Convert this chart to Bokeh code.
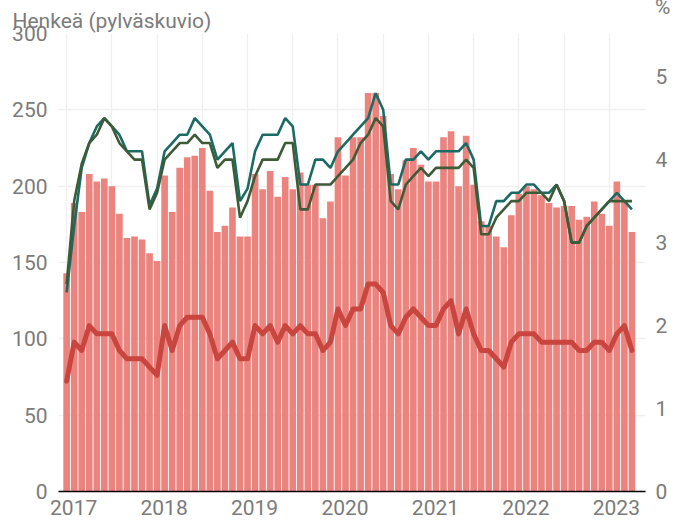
from bokeh.plotting import figure
from bokeh.models import Range1d, LinearAxis, FixedTicker, CustomJSTickFormatter, Title
from bokeh.embed import file_html
from bokeh.resources import INLINE

# Monthly data, Jan 2017 .. Apr 2023
start_year = 2017
persons = [143, 189, 183, 208, 203, 205, 200, 182, 166, 167, 165, 156,
           151, 207, 183, 212, 219, 220, 225, 197, 170, 174, 186, 167,
           167, 208, 198, 210, 193, 206, 198, 209, 201, 201, 179, 190,
           232, 207, 232, 232, 261, 261, 246, 208, 198, 217, 225, 214,
           203, 203, 232, 236, 200, 233, 201, 177, 174, 167, 160, 181,
           195, 200, 198, 194, 189, 186, 187, 187, 178, 180, 190, 182,
           174, 203, 190, 170]
rate_teal = [2.4, 3.2, 3.9, 4.2, 4.4, 4.5, 4.4, 4.3, 4.1, 4.1, 4.1, 3.45,
             3.65, 4.1, 4.2, 4.3, 4.3, 4.5, 4.4, 4.3, 4.0, 4.1, 4.2, 3.5,
             3.65, 4.1, 4.3, 4.3, 4.3, 4.5, 4.4, 3.7, 3.7, 4.0, 4.0, 3.9,
             4.1, 4.2, 4.3, 4.4, 4.5, 4.8, 4.6, 3.7, 3.7, 4.0, 4.0, 4.1,
             4.0, 4.1, 4.1, 4.1, 4.1, 4.2, 4.0, 3.2, 3.2, 3.5, 3.5, 3.6,
             3.6, 3.7, 3.7, 3.6, 3.6, 3.7, 3.5, 3.0, 3.0, 3.2, 3.3, 3.4,
             3.5, 3.6, 3.5, 3.4]
rate_green = [2.5, 3.5, 3.95, 4.2, 4.3, 4.5, 4.4, 4.2, 4.1, 4.0, 4.0, 3.4,
              3.6, 4.0, 4.1, 4.2, 4.2, 4.3, 4.2, 4.2, 3.9, 4.0, 4.0, 3.3,
              3.5, 3.8, 4.0, 4.0, 4.0, 4.2, 4.2, 3.4, 3.4, 3.7, 3.7, 3.7,
              3.8, 3.9, 4.0, 4.2, 4.3, 4.5, 4.4, 3.5, 3.4, 3.7, 3.8, 3.9,
              3.8, 3.9, 3.9, 3.9, 3.9, 4.0, 3.9, 3.1, 3.1, 3.3, 3.4, 3.5,
              3.5, 3.6, 3.6, 3.6, 3.5, 3.7, 3.5, 3.0, 3.0, 3.2, 3.3, 3.4,
              3.5, 3.5, 3.5, 3.5]
rate_red = [1.33, 1.8, 1.7, 2.0, 1.9, 1.9, 1.9, 1.7, 1.6, 1.6, 1.6, 1.5,
            1.4, 2.0, 1.7, 2.0, 2.1, 2.1, 2.1, 1.9, 1.6, 1.7, 1.8, 1.6,
            1.6, 2.0, 1.9, 2.0, 1.8, 2.0, 1.9, 2.0, 1.9, 1.9, 1.7, 1.8,
            2.2, 2.0, 2.2, 2.2, 2.5, 2.5, 2.4, 2.0, 1.9, 2.1, 2.2, 2.1,
            2.0, 2.0, 2.2, 2.3, 1.9, 2.2, 1.9, 1.7, 1.7, 1.6, 1.5, 1.8,
            1.9, 1.9, 1.9, 1.8, 1.8, 1.8, 1.8, 1.8, 1.7, 1.7, 1.8, 1.8,
            1.7, 1.9, 2.0, 1.7]
years = [2017, 2018, 2019, 2020, 2021, 2022, 2023]
left_ticks = [0, 50, 100, 150, 200, 250, 300]
right_ticks = [0, 1, 2, 3, 4, 5]
title_text = "Henkeä (pylväskuvio)"
right_unit = "%"

n = len(persons)
xs = [start_year + i / 12 for i in range(n)]

FONT = "Roboto"
GREY = "#7b7b7b"
FS = "21px"

p = figure(width=683, height=523, output_backend="svg", toolbar_location=None,
           title=None,
           x_range=Range1d(start_year - 1.08 / 12, start_year + 76.8 / 12),
           y_range=Range1d(0, 300),
           min_border_left=58, min_border_right=38, min_border_top=33,
           min_border_bottom=32)
p.outline_line_color = None
p.background_fill_color = "white"
p.extra_y_ranges = {"pct": Range1d(0, 5.52)}

p.vbar(x=xs, top=persons, width=0.88 / 12, bottom=0, color="#eb837e", line_color=None)
p.line(xs, rate_red, y_range_name="pct", line_color="#c8463f", line_width=5,
       line_join="round", line_cap="round")
p.line(xs, rate_teal, y_range_name="pct", line_color="#1b6b64", line_width=2.6)
p.line(xs, rate_green, y_range_name="pct", line_color="#3e5b38", line_width=2.6)

# titles: left-axis caption (closest to the frame) and right-axis unit (outermost)
p.add_layout(Title(text=title_text, align="left", offset=-46, standoff=2,
                   text_font=FONT, text_font_size="21px", text_font_style="normal",
                   text_color=GREY), "above")
p.add_layout(Title(text=right_unit, align="right", offset=-25, standoff=-26,
                   text_font=FONT, text_font_size="21px", text_font_style="normal",
                   text_color=GREY), "above")

# x axis
xa = p.xaxis[0]
xa.ticker = FixedTicker(ticks=[y + 0.0775 for y in years])
xa.formatter = CustomJSTickFormatter(code="return Math.floor(tick).toString();")
xa.axis_line_color = "black"
xa.axis_line_width = 1.5
xa.major_tick_line_color = None
xa.minor_tick_line_color = None
xa.major_tick_out = 0
xa.major_tick_in = 0
xa.major_label_standoff = 8
xa.major_label_text_font = FONT
xa.major_label_text_font_size = FS
xa.major_label_text_color = GREY

# left axis
ya = p.yaxis[0]
ya.ticker = FixedTicker(ticks=left_ticks)
ya.axis_line_color = None
ya.major_tick_line_color = None
ya.minor_tick_line_color = None
ya.major_tick_out = 0
ya.major_tick_in = 0
ya.major_label_standoff = 11
ya.major_label_text_font = FONT
ya.major_label_text_font_size = FS
ya.major_label_text_color = GREY

# right axis
ra = LinearAxis(y_range_name="pct", ticker=FixedTicker(ticks=right_ticks))
ra.axis_line_color = None
ra.major_tick_line_color = None
ra.minor_tick_line_color = None
ra.major_tick_out = 0
ra.major_tick_in = 0
ra.major_label_standoff = 10
ra.major_label_text_font = FONT
ra.major_label_text_font_size = FS
ra.major_label_text_color = GREY
p.add_layout(ra, "right")

# grids
p.xgrid.ticker = FixedTicker(ticks=[start_year + k * 0.5 for k in range(13)])
p.xgrid.grid_line_color = "#f0f0f0"
p.xgrid.grid_line_width = 1.5
p.ygrid.grid_line_color = "#f0f0f0"
p.ygrid.grid_line_width = 1.5

open("out.html", "w").write(file_html(p, INLINE))
